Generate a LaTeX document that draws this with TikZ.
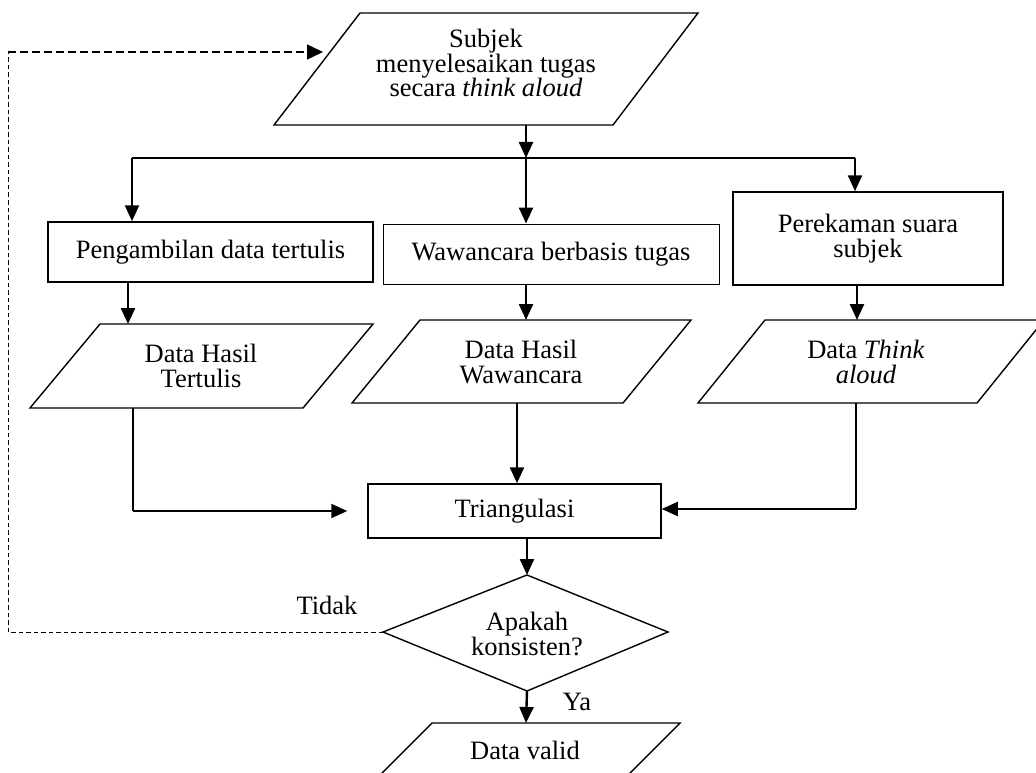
\documentclass[tikz,border=0pt]{standalone}
\usepackage{fontspec}
\setmainfont{Liberation Serif}
\usetikzlibrary{arrows.meta}
\tikzset{
  txt/.style={inner sep=0pt, align=center, font=\fontsize{26.5}{24.5}\selectfont},
  fig/.style={draw, line width=1.4pt, line join=miter},
  box/.style={draw, line width=1.5pt, inner sep=0pt, align=center, font=\fontsize{26.5}{24.5}\selectfont},
  arr/.style={line width=2.4pt, -{Triangle[length=16pt,width=14pt]}},
  thinline/.style={line width=1.1pt},
  dashA/.style={line width=1.5pt, dash pattern=on 8pt off 4pt, -{Triangle[length=16pt,width=15pt]}},
  dashB/.style={line width=1pt, dash pattern=on 4.5pt off 3pt},
}
\begin{document}
\begin{tikzpicture}[x=1pt,y=-1pt]
\useasboundingbox (0,0) rectangle (1036,773);
\clip (0,0) rectangle (1036,773);

% top parallelogram
\draw[fig] (360,13) -- (698,13) -- (613,125) -- (274,125) -- cycle;
\node[txt] (start) at (486,63) {Subjek\\menyelesaikan tugas\\secara \textit{think aloud}};
\coordinate (startB) at (526,125);

% branch
\coordinate (bM) at (526,158);
\coordinate (bL) at (132,158);
\coordinate (bR) at (855,158);
\draw[arr] (startB) -- (bM);
\draw[thinline] (bL) -- (bR);

% process boxes
\node[box, minimum width=325pt, minimum height=60pt] (pad) at (210.5,252) {Pengambilan data tertulis};
\node[box, line width=1pt, minimum width=336pt, minimum height=60pt] (ww) at (551,254) {Wawancara berbasis tugas};
\node[box, minimum width=270pt, minimum height=93pt] (rek) at (868,238.5) {Perekaman suara\\subjek};

\draw[arr] (bL) -- (bL |- pad.north);
\draw[arr] (bM) -- (bM |- ww.north);
\draw[arr] (bR) -- (bR |- rek.north);

% data parallelograms
\draw[fig] (100,324) -- (373,324) -- (303,408) -- (30,408) -- cycle;
\node[txt] (dt) at (201,366) {Data Hasil\\Tertulis};
\coordinate (dtT) at (128,324);
\coordinate (dtB) at (133,408);

\draw[fig] (420,320) -- (691,320) -- (623,403) -- (352,403) -- cycle;
\node[txt] (dw) at (521,362) {Data Hasil\\Wawancara};
\coordinate (dwT) at (526,320);
\coordinate (dwB) at (517,403);

\draw[fig] (765,320) -- (1044,320) -- (977,403) -- (698,403) -- cycle;
\node[txt] (dta) at (866,362) {Data \textit{Think}\\\textit{aloud}};
\coordinate (dtaT) at (857,320);
\coordinate (dtaB) at (856,403);

\draw[arr] (pad.south -| dtT) -- (dtT);
\draw[arr] (ww.south -| dwT) -- (dwT);
\draw[arr] (rek.south -| dtaT) -- (dtaT);

% triangulasi
\node[box, minimum width=293pt, minimum height=54pt] (tri) at (514.5,511) {Triangulasi};
\coordinate (cL) at (133,511);
\coordinate (cR) at (856,509);
\draw[thinline] (dtB) -- (cL);
\draw[arr, line width=2pt, shorten >=20pt] (cL) -- (tri.west);
\draw[thinline] (dtaB) -- (cR);
\draw[arr, line width=2pt] (cR) -- (cR -| tri.east);
\draw[arr] (dwB) -- (dwB |- tri.north);

% decision
\coordinate (dT) at (527,575);
\coordinate (dL) at (383,632);
\coordinate (dR) at (668,632);
\coordinate (dB) at (527,691);
\draw[fig] (dT) -- (dR) -- (dB) -- (dL) -- cycle;
\node[txt] (dec) at (527,634) {Apakah\\konsisten?};
\draw[arr] (tri.south -| dT) -- (dT);

% no branch
\coordinate (nL) at (8,632);
\coordinate (nT) at (8,52);
\coordinate (startL) at (323,52);
\draw[dashB] (dL) -- (nL) -- (nT);
\draw[dashA] (nT) -- (startL);
\node[txt] (tidak) at (327,605) {Tidak};

% yes branch
\draw[fig] (432,723) -- (680,723) -- (623,780) -- (375,780) -- cycle;
\node[txt] (valid) at (525,750) {Data valid};
\coordinate (vT) at (526,723);
\draw[arr] (dB) -- (vT);
\node[txt] (ya) at (577,702) {Ya};
\end{tikzpicture}
\end{document}
